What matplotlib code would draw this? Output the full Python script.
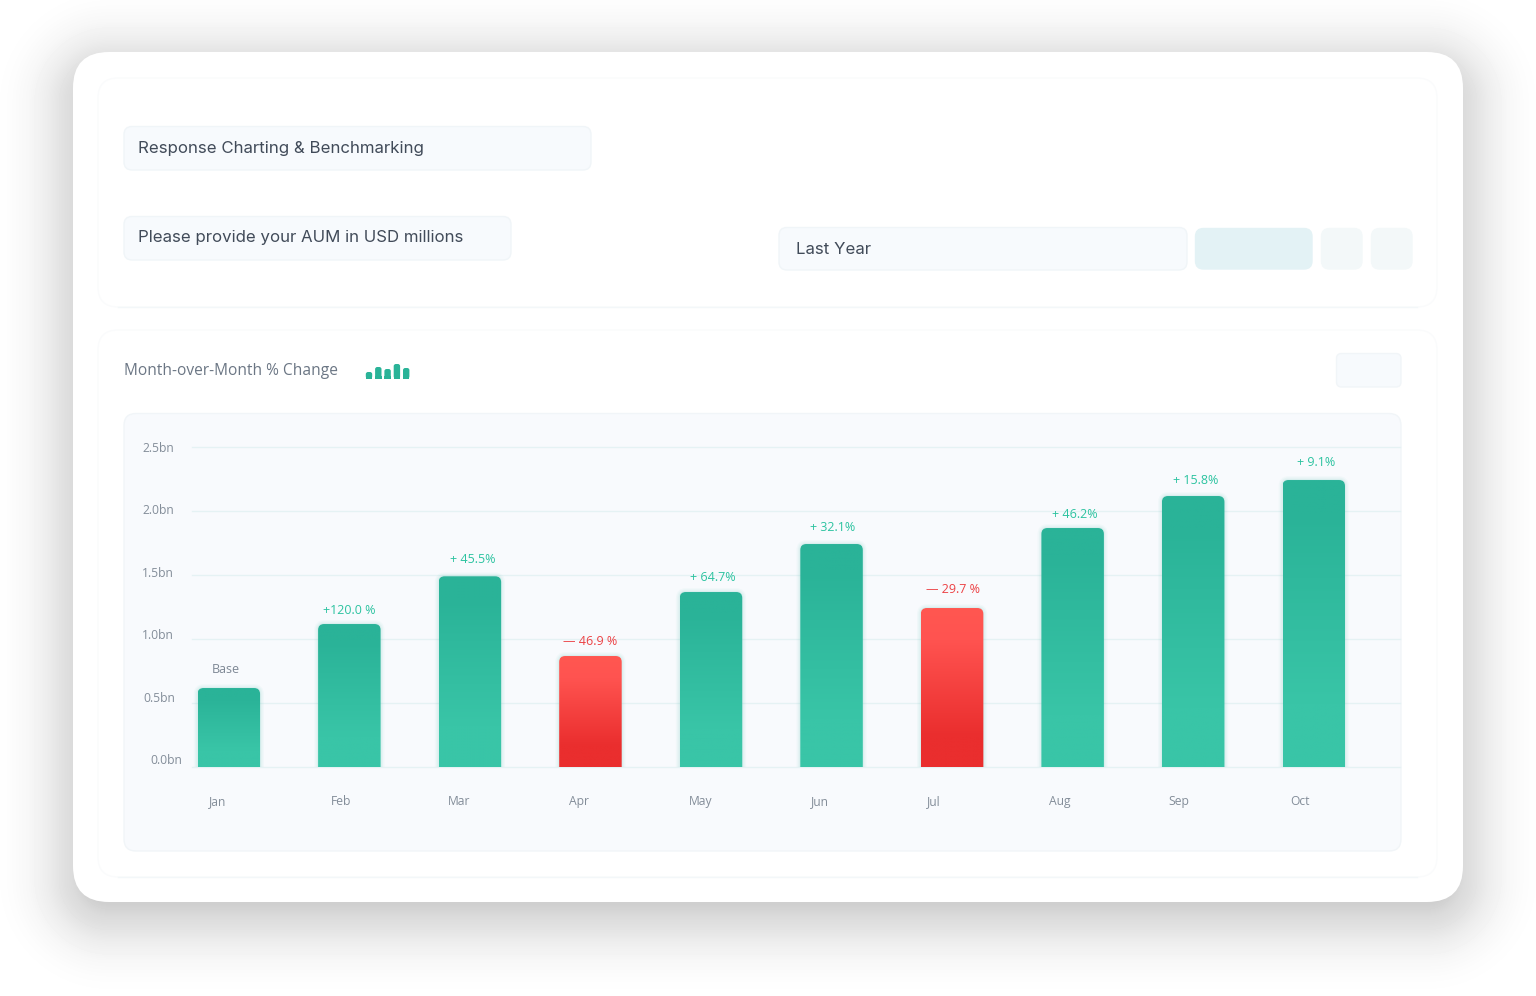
import numpy as np
import matplotlib
matplotlib.use("Agg")
import matplotlib.pyplot as plt
from matplotlib.patches import FancyBboxPatch, PathPatch
from matplotlib.path import Path
from matplotlib.colors import LinearSegmentedColormap
from matplotlib.transforms import ScaledTranslation

# ---- data ----
months = ["Jan", "Feb", "Mar", "Apr", "May", "Jun", "Jul", "Aug", "Sep", "Oct"]
aum_bn = [0.617, 1.117, 1.49, 0.867, 1.367, 1.742, 1.242, 1.867, 2.117, 2.242]
change_labels = ["Base", "+120.0 %", "+ 45.5%", "— 46.9 %", "+ 64.7%", "+ 32.1%",
                 "— 29.7 %", "+ 46.2%", "+ 15.8%", "+ 9.1%"]
is_down = [False, False, False, True, False, False, True, False, False, False]
y_ticks = [0.0, 0.5, 1.0, 1.5, 2.0, 2.5]
y_tick_labels = ["0.0bn", "0.5bn", "1.0bn", "1.5bn", "2.0bn", "2.5bn"]
icon_values = [6.5, 11.5, 9.5, 14.5, 10.5]

# ---- layout (pixels) ----
W, H = 1536, 996
PLOT_L, PLOT_R, PLOT_T, PLOT_B = 192, 1400, 447, 767
FIRST_BAR, BAR_STEP, BAR_W = 228.8, 120.55, 62.5
x_label_dx = [-11, -8, -11, -11.5, -10.5, -12, -18.5, -13, -14.5, -13.5]
y_label_dy = [8, 6, 5, 3, 2, 0]
y_label_dx = [9, 1.5, 1, 1, 1, 0.5]
label_dx = [-2.5, 0, 2.5, -0.5, 2, 1.5, 1, 2.5, 2, 2.5]
label_dy = [19, 14, 17, 15, 15, 16.5, 19, 14, 16, 18]

fig = plt.figure(figsize=(W / 100, H / 100), dpi=100, facecolor="white")
bg = fig.add_axes([0, 0, 1, 1], zorder=0)
bg.axis("off")

# soft drop shadow from a rounded rectangle distance field
yy, xx = np.mgrid[0:H, 0:W] + 0.5
cx, cy, hw, hh, r = 768, 491, 695, 425, 36
qx = np.abs(xx - cx) - (hw - r)
qy = np.abs(yy - cy) - (hh - r)
dist = np.hypot(np.maximum(qx, 0), np.maximum(qy, 0)) + np.minimum(np.maximum(qx, qy), 0) - r
shade = 1 - np.interp(dist, [-12, 1, 8, 26, 45, 62, 80], [0.19, 0.14, 0.125, 0.07, 0.03, 0.01, 0.0])
bg.imshow(shade, cmap="gray", vmin=0, vmax=1, extent=(0, W, H, 0), aspect="auto", zorder=0,
          interpolation="bilinear")
bg.set_xlim(0, W)
bg.set_ylim(H, 0)


def card(x0, y0, x1, y1, rad, fc, ec, lw=1.0, z=1):
    bg.add_patch(FancyBboxPatch((x0, y0), x1 - x0, y1 - y0,
                                boxstyle=f"round,pad=0,rounding_size={rad}",
                                fc=fc, ec=ec, lw=lw, zorder=z))


card(73, 52, 1463, 902, 36, "white", "none", z=1)
card(98, 78, 1437, 307, 20, "white", "#fafbfc", z=2)
card(98, 330, 1437, 877, 20, "white", "#fafbfc", z=2)
bg.plot([118, 1417], [307, 307], color="#f3f7f9", lw=1, zorder=2.5)
bg.plot([118, 1417], [877, 877], color="#f3f7f9", lw=1, zorder=2.5)
card(124, 126.5, 591, 170, 8, "#f7fafd", "#f0f5f8", z=3)
card(124, 216.5, 511, 260, 8, "#f7fafd", "#f0f5f8", z=3)
card(779, 227.5, 1187, 270, 8, "#f7fafd", "#f0f5f8", z=3)
card(1195.5, 228.5, 1312, 269, 8, "#e3f2f5", "#e3f2f5", z=3)
card(1321.5, 228.5, 1362, 269, 8, "#f3f8f9", "#f3f8f9", z=3)
card(1371.5, 228.5, 1412, 269, 8, "#f3f8f9", "#f3f8f9", z=3)
card(1336.5, 353.5, 1401, 387, 5, "#f7fafd", "#f1f5f8", z=3)
card(124, 413.5, 1401, 851, 12, "#f8fafd", "#f1f5f8", z=3)

ink = "#414b59"
bg.text(138, 148, "Response Charting & Benchmarking", family="Inter", fontsize=12.15,
        color=ink, va="center", zorder=5)
bg.text(138, 237, "Please provide your AUM in USD millions", family="Inter", fontsize=12.1,
        color=ink, va="center", zorder=5)
bg.text(796, 249, "Last Year", family="Inter", fontsize=12.15, color=ink, va="center", zorder=5)
bg.text(123.5, 371, "Month-over-Month % Change", family="Open Sans", fontsize=11.2,
        color="#6b7684", va="center", zorder=5)

# small bar icon beside the subtitle
icon_bars = bg.bar(np.arange(len(icon_values)) * 9.3 + 369, [-v for v in icon_values],
                   bottom=378.5, width=6.4, color="none", zorder=4)
for b in icon_bars:
    bx, bw_i, bh = b.get_x(), b.get_width(), abs(b.get_height())
    bg.add_patch(FancyBboxPatch((bx, 378.5 - bh), bw_i, bh, boxstyle="round,pad=0,rounding_size=2.2",
                                fc="#2ab398", ec="none", zorder=5))
    bg.add_patch(FancyBboxPatch((bx, 378.5 - 3), bw_i, 3, boxstyle="square,pad=0",
                                fc="#2ab398", ec="none", zorder=5))
bg.set_xlim(0, W)
bg.set_ylim(H, 0)

# ---- chart axes ----
ax = fig.add_axes([PLOT_L / W, 1 - PLOT_B / H, (PLOT_R - PLOT_L) / W, (PLOT_B - PLOT_T) / H], zorder=1)
ax.patch.set_visible(False)
for s in ax.spines.values():
    s.set_visible(False)
positions = np.arange(len(months))
ax.set_xlim((PLOT_L - FIRST_BAR) / BAR_STEP, (PLOT_R - FIRST_BAR) / BAR_STEP)
ax.set_ylim(0, 2.5)
ax.set_axisbelow(True)
ax.yaxis.grid(True, color="#e5f2f4", lw=1.0, clip_on=False)
ax.xaxis.grid(False)
ax.set_yticks(y_ticks, y_tick_labels)
ax.set_xticks(positions, months)
ax.tick_params(axis="y", length=0, pad=13.5, labelsize=8.7, labelcolor="#838d99")
ax.tick_params(axis="x", length=0, pad=27.5, labelsize=8.7, labelcolor="#838d99")
for lbl in ax.get_yticklabels() + ax.get_xticklabels():
    lbl.set_family("Open Sans")
for lbl in ax.get_xticklabels():
    lbl.set_verticalalignment("baseline")
for lbl, dx, dy in zip(ax.get_yticklabels(), y_label_dx, y_label_dy):
    lbl.set_transform(lbl.get_transform() + ScaledTranslation(dx / 100, dy / 100, fig.dpi_scale_trans))
for lbl, dx in zip(ax.get_xticklabels(), x_label_dx):
    lbl.set_transform(lbl.get_transform() + ScaledTranslation(dx / 100, 0, fig.dpi_scale_trans))

teal = LinearSegmentedColormap.from_list("t", [(0, "#2ab398"), (0.12, "#2ab398"), (0.78, "#39c5a7"), (1, "#39c5a7")])
red = LinearSegmentedColormap.from_list("r", [(0, "#ff5751"), (0.2, "#ff5350"), (0.8, "#ea2e2e"), (1, "#ea2e2e")])
grad = np.linspace(0, 1, 256).reshape(-1, 1)
bw = BAR_W / BAR_STEP
rx = 6 / BAR_STEP
ry = 6 * 2.5 / (PLOT_B - PLOT_T)
BASE = -0.008

bars = ax.bar(positions, aum_bn, width=bw, color="none", edgecolor="none", zorder=2)
for i, (bar, value, down) in enumerate(zip(bars, aum_bn, is_down)):
    x0, x1 = bar.get_x(), bar.get_x() + bar.get_width()
    verts = [(x0, BASE), (x0, value - ry), (x0, value), (x0 + rx, value), (x1 - rx, value),
             (x1, value), (x1, value - ry), (x1, BASE), (x0, BASE)]
    codes = [Path.MOVETO, Path.LINETO, Path.CURVE3, Path.CURVE3, Path.LINETO,
             Path.CURVE3, Path.CURVE3, Path.LINETO, Path.CLOSEPOLY]
    path = Path(verts, codes)
    glow = "#2fb8a0"
    for lw, a in [(5.5, 0.035), (3.5, 0.05), (1.5, 0.07)]:
        ax.add_patch(PathPatch(path, fc="none", ec=glow, lw=lw, alpha=a, zorder=1.5))
    im = ax.imshow(grad, cmap=red if down else teal, vmin=0, vmax=1, aspect="auto",
                   extent=(x0, x1, BASE, value), origin="upper", zorder=3)
    im.set_clip_box(None)
    im.set_clip_path(PathPatch(path, transform=ax.transData))
    col = "#ec4144" if down else "#2cc3a0"
    if change_labels[i] == "Base":
        col = "#7d8794"
    ax.annotate(change_labels[i], (i, value), xytext=(label_dx[i] * 0.72, label_dy[i] * 0.72),
                textcoords="offset points", ha="center", va="center", family="Open Sans",
                fontsize=9, color=col, zorder=4, annotation_clip=False)
ax.set_xlim((PLOT_L - FIRST_BAR) / BAR_STEP, (PLOT_R - FIRST_BAR) / BAR_STEP)
ax.set_ylim(0, 2.5)

fig.savefig("out.png", dpi=100)
